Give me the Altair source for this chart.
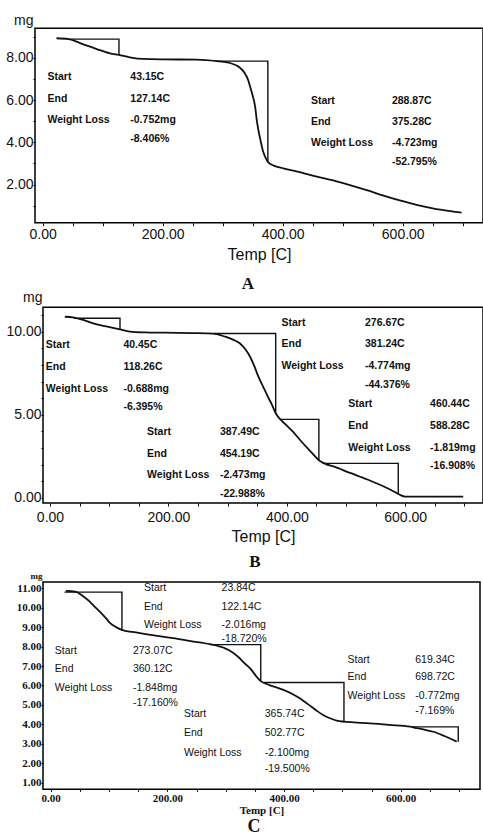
import altair as alt
import pandas as pd

# ---------------- TGA curves (temperature in C, mass in mg) ----------------
A_TEMP = [23, 43, 68, 90, 112, 127, 145, 168, 200, 257, 290, 312, 329, 336, 343, 346, 350, 354, 357,
          360, 363, 367, 371, 376, 385, 401, 430, 457, 484, 512, 540, 568, 595, 623, 650, 679, 698]
A_MASS = [8.92, 8.88, 8.63, 8.41, 8.21, 8.13, 8.02, 7.94, 7.92, 7.91, 7.84, 7.75, 7.52, 7.3, 6.9, 6.6, 6.2, 5.7, 5.0,
          4.5, 4.1, 3.6, 3.3, 3.05, 2.9, 2.77, 2.58, 2.38, 2.2, 1.98, 1.74, 1.48, 1.25, 1.04, 0.88, 0.75, 0.68]

B_TEMP = [25, 39, 56, 73, 95, 118, 135, 160, 194, 240, 276, 295, 310, 321, 330, 338, 345, 352, 360, 368,
          375, 382, 390, 400, 410, 422, 440, 456, 465, 480, 507, 535, 563, 580, 590, 600, 650, 698]
B_MASS = [10.91, 10.87, 10.72, 10.51, 10.33, 10.15, 10.02, 9.97, 9.95, 9.93, 9.9, 9.72, 9.52, 9.3, 8.95, 8.5, 7.95, 7.3, 6.7, 6.1,
          5.6, 5.05, 4.7, 4.35, 4.0, 3.5, 2.8, 2.22, 2.05, 1.88, 1.5, 1.12, 0.7, 0.4, 0.2, 0.07, 0.07, 0.07]

C_TEMP = [26, 42, 55, 67, 77, 87, 95, 102, 112, 122, 140, 153, 180, 210, 240, 273, 290, 299, 312, 324, 333, 342,
          353, 360, 368, 380, 399, 415, 427, 437, 447, 457, 467, 480, 492, 502, 520, 542, 580, 616, 628, 642, 656, 675, 696]
C_MASS = [10.86, 10.83, 10.6, 10.31, 10.0, 9.71, 9.45, 9.2, 9.0, 8.86, 8.75, 8.69, 8.56, 8.43, 8.28, 8.12, 8.0, 7.91, 7.7, 7.4, 7.12, 6.88,
          6.45, 6.22, 6.1, 5.97, 5.77, 5.55, 5.34, 5.12, 4.91, 4.68, 4.48, 4.3, 4.18, 4.14, 4.1, 4.06, 3.97, 3.88, 3.8, 3.72, 3.62, 3.4, 3.11]

# ---------------- step markers: start / end temperature, mass at start / end ----------------
A_STEP_START = [43.15, 288.87]
A_STEP_END = [127.14, 375.28]
A_STEP_M0 = [8.88, 7.84]
A_STEP_M1 = [8.13, 3.10]

B_STEP_START = [40.45, 276.67, 387.49, 460.44]
B_STEP_END = [118.26, 381.24, 454.19, 588.28]
B_STEP_M0 = [10.82, 9.90, 4.73, 2.08]
B_STEP_M1 = [10.13, 5.10, 2.25, 0.25]

C_STEP_START = [23.84, 273.07, 365.74, 619.34]
C_STEP_END = [122.14, 360.12, 502.77, 698.72]
C_STEP_M0 = [10.80, 8.10, 6.15, 3.87]
C_STEP_M1 = [8.80, 6.22, 4.10, 3.10]

# ---------------- annotation texts ----------------
ROW_LABELS = ["Start", "End", "Weight Loss", ""]

A_START_TXT = ["43.15C", "288.87C"]
A_END_TXT = ["127.14C", "375.28C"]
A_LOSS_MG = ["-0.752mg", "-4.723mg"]
A_LOSS_PCT = ["-8.406%", "-52.795%"]

B_START_TXT = ["40.45C", "276.67C", "387.49C", "460.44C"]
B_END_TXT = ["118.26C", "381.24C", "454.19C", "588.28C"]
B_LOSS_MG = ["-0.688mg", "-4.774mg", "-2.473mg", "-1.819mg"]
B_LOSS_PCT = ["-6.395%", "-44.376%", "-22.988%", "-16.908%"]

C_START_TXT = ["23.84C", "273.07C", "365.74C", "619.34C"]
C_END_TXT = ["122.14C", "360.12C", "502.77C", "698.72C"]
C_LOSS_MG = ["-2.016mg", "-1.848mg", "-2.100mg", "-0.772mg"]
C_LOSS_PCT = ["-18.720%", "-17.160%", "-19.500%", "-7.169%"]

# ---------------- annotation anchors (data units) ----------------
A_LABEL_X = [8, 447]
A_VALUE_X = [146, 582]
A_ROW_Y = [[7.07, 6.05, 5.05, 4.16], [5.95, 4.95, 3.95, 3.05]]

B_LABEL_X = [-7, 391, 164, 504]
B_VALUE_X = [124, 532, 287, 642]
B_ROW_Y = [[9.2, 7.86, 6.54, 5.45], [10.51, 9.25, 7.96, 6.8], [3.95, 2.64, 1.37, 0.23], [5.63, 4.34, 3.02, 1.93]]

C_LABEL_X = [160, 7, 228.5, 509]
C_VALUE_X = [293, 141, 367, 625]
C_ROW_Y = [[11.0, 10.05, 9.11, 8.38], [7.77, 6.85, 5.89, 5.12], [4.53, 3.54, 2.54, 1.69], [7.31, 6.42, 5.46, 4.7]]

SANS = "Liberation Sans"
SERIF = "Liberation Serif"
INK = "#111111"
W, H = 483, 838


def build_panel(temp, mass, st, en, m0, m1, s_txt, e_txt, mg_txt, pct_txt,
                lab_x, val_x, row_y, letter, letter_xy, cfg):
    xs = alt.Scale(domain=cfg["xdom"], range=cfg["xrange"], nice=False, zero=False)
    ys = alt.Scale(domain=cfg["ydom"], range=cfg["yrange"], nice=False, zero=False)
    xaxis = alt.Axis(
        orient="bottom", offset=cfg["xoff"], values=list(range(0, 701, 50)), format=".2f",
        labelExpr="datum.value % 200 === 0 ? datum.label : ''",
        domain=False, grid=False, ticks=True, tickSize=cfg["xtick"], tickColor="black", tickWidth=1,
        labelFont=cfg["tfont"], labelFontSize=cfg["tsize"], labelFontWeight=cfg["tweight"],
        labelColor=INK, labelPadding=cfg["xlabpad"], labelFlush=False, labelOverlap=False,
        title="Temp  [C]", titleFont=cfg["tfont"], titleFontSize=cfg["titlesize"],
        titleFontWeight=cfg["tweight"], titleColor=INK, titlePadding=cfg["titlepad"])
    yaxis = alt.Axis(
        orient="left", offset=cfg["yoff"], values=cfg["yvals"], format=".2f",
        labelExpr=cfg["ylabexpr"], domain=False, grid=False, ticks=True, tickSize=2,
        tickColor="black", tickWidth=1,
        labelFont=cfg["tfont"], labelFontSize=cfg["ysize"], labelFontWeight=cfg["tweight"],
        labelColor=INK, labelPadding=0, labelFlush=False, labelOverlap=False,
        title="mg", titleAngle=0, titleAlign="right", titleBaseline="middle",
        titleX=cfg["mgx"], titleY=cfg["mgy"], titleFont=cfg["tfont"], titleFontSize=cfg["mgsize"],
        titleFontWeight=cfg["tweight"], titleColor=INK)

    def X(f="x"):
        return alt.X(f"{f}:Q", scale=xs, axis=xaxis)

    def Y(f="y"):
        return alt.Y(f"{f}:Q", scale=ys, axis=yaxis)

    frame_df = pd.DataFrame({"x": [cfg["xdom"][0]], "x2": [cfg["xdom"][1]],
                             "y": [cfg["ydom"][0]], "y2": [cfg["ydom"][1]]})
    frame = alt.Chart(frame_df).mark_rect(fillOpacity=0, stroke="black", strokeWidth=1.5).encode(
        x=X(), x2="x2:Q", y=Y(), y2="y2:Q")

    curve_df = pd.DataFrame({"x": temp, "y": mass})
    curve = alt.Chart(curve_df).mark_line(color=INK, strokeWidth=1.8, interpolate="monotone").encode(
        x=X(), y=Y())

    rows = []
    for i in range(len(st)):
        rows += [{"sid": i, "k": 0, "x": st[i], "y": m0[i]},
                 {"sid": i, "k": 1, "x": en[i], "y": m0[i]},
                 {"sid": i, "k": 2, "x": en[i], "y": m1[i]}]
    step = alt.Chart(pd.DataFrame(rows)).mark_line(color=INK, strokeWidth=1.4).encode(
        x=X(), y=Y(), detail="sid:N", order="k:Q")

    trows = []
    for i in range(len(st)):
        vals = [s_txt[i], e_txt[i], mg_txt[i], pct_txt[i]]
        for r in range(4):
            if ROW_LABELS[r]:
                trows.append({"x": lab_x[i], "y": row_y[i][r], "t": ROW_LABELS[r]})
            trows.append({"x": val_x[i], "y": row_y[i][r], "t": vals[r]})
    texts = alt.Chart(pd.DataFrame(trows)).mark_text(
        align="left", baseline="middle", font=SANS, fontSize=cfg["asize"],
        fontWeight=cfg["aweight"], color=INK).encode(x=X(), y=Y(), text="t:N")

    let_df = pd.DataFrame({"x": [letter_xy[0]], "y": [letter_xy[1]], "t": [letter]})
    let = alt.Chart(let_df).mark_text(
        align="center", baseline="middle", font=SERIF, fontSize=cfg["letsize"],
        fontWeight="bold", color=INK).encode(x=X(), y=Y(), text="t:N")

    return alt.layer(frame, curve, step, texts, let)


cfgA = dict(xdom=[-12.8, 733.8], xrange=[35, 483], ydom=[0.2, 9.39], yrange=[222.7, 28.3],
            xoff=222.7 - H, yoff=-35, xtick=3, xlabpad=2, titlepad=5,
            tfont=SANS, tweight="normal", tsize=14, ysize=14, titlesize=16,
            yvals=list(range(1, 10)), ylabexpr="datum.value % 2 === 0 ? datum.label : ''",
            mgx=-2, mgy=20, mgsize=14, asize=10.5, aweight="bold", letsize=17)
cfgB = dict(xdom=[-11.8, 731.4], xrange=[43, 483], ydom=[-0.31, 11.48], yrange=[503, 307.3],
            xoff=503 - H, yoff=-43, xtick=3, xlabpad=4, titlepad=4,
            tfont=SANS, tweight="normal", tsize=14, ysize=14, titlesize=16,
            yvals=list(range(0, 12)), ylabexpr="datum.value % 5 === 0 ? datum.label : ''",
            mgx=-1, mgy=297, mgsize=14, asize=10.5, aweight="bold", letsize=17)
cfgC = dict(xdom=[-13.2, 736], xrange=[43, 480], ydom=[0.66, 11.32], yrange=[789.3, 582],
            xoff=789.3 - H, yoff=-43, xtick=2, xlabpad=1, titlepad=1,
            tfont=SERIF, tweight="bold", tsize=11, ysize=11, titlesize=11,
            yvals=list(range(1, 12)), ylabexpr="datum.label",
            mgx=-1, mgy=575, mgsize=9, asize=10.5, aweight="normal", letsize=18)

pA = build_panel(A_TEMP, A_MASS, A_STEP_START, A_STEP_END, A_STEP_M0, A_STEP_M1,
                 A_START_TXT, A_END_TXT, A_LOSS_MG, A_LOSS_PCT, A_LABEL_X, A_VALUE_X, A_ROW_Y,
                 "A", (342, -2.7), cfgA)
pB = build_panel(B_TEMP, B_MASS, B_STEP_START, B_STEP_END, B_STEP_M0, B_STEP_M1,
                 B_START_TXT, B_END_TXT, B_LOSS_MG, B_LOSS_PCT, B_LABEL_X, B_VALUE_X, B_ROW_Y,
                 "B", (346, -3.87), cfgB)
pC = build_panel(C_TEMP, C_MASS, C_STEP_START, C_STEP_END, C_STEP_M0, C_STEP_M1,
                 C_START_TXT, C_END_TXT, C_LOSS_MG, C_LOSS_PCT, C_LABEL_X, C_VALUE_X, C_ROW_Y,
                 "C", (348.5, -1.3), cfgC)

chart = alt.layer(pA, pB, pC).resolve_scale(x="independent", y="independent").properties(
    width=W, height=H, autosize=alt.AutoSizeParams(type="none"), padding=0,
    background="white").configure_view(strokeWidth=0)

chart.save("out.html", embed_options={"renderer": "svg", "actions": False})
